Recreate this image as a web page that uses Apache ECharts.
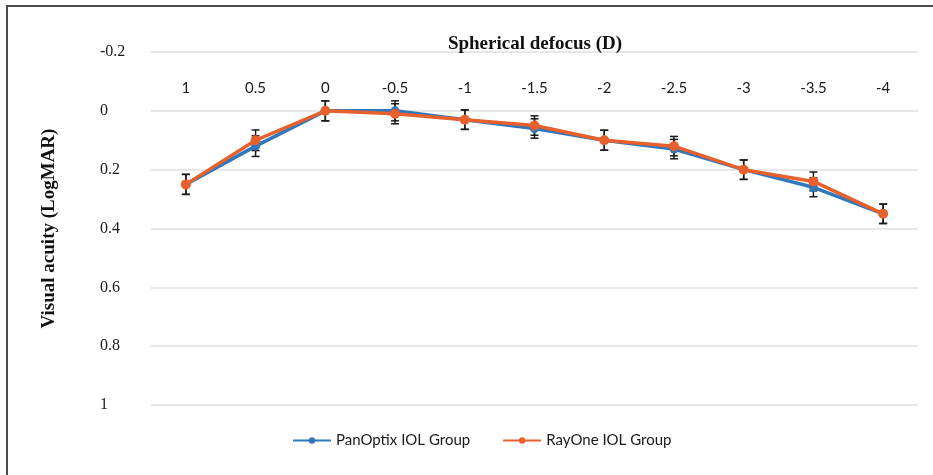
<!DOCTYPE html>
<html>
<head>
<meta charset="utf-8">
<script src="https://cdn.jsdelivr.net/npm/echarts@6/dist/echarts.min.js"></script>
<style>
  html, body { margin: 0; padding: 0; background: #fff; }
  #chart { width: 933px; height: 475px; }
</style>
</head>
<body>
<div id="chart"></div>
<script>
// Defocus steps (D) and mean visual acuity (LogMAR) per group
const categories = ['1', '0.5', '0', '-0.5', '-1', '-1.5', '-2', '-2.5', '-3', '-3.5', '-4'];
const panOptix = [0.25, 0.12, 0.00, 0.00, 0.03, 0.06, 0.10, 0.13, 0.20, 0.26, 0.35];
const rayOne   = [0.25, 0.10, 0.00, 0.01, 0.03, 0.05, 0.10, 0.12, 0.20, 0.24, 0.35];
// Standard error half-widths
const panOptixErr = [0.034, 0.035, 0.034, 0.034, 0.033, 0.033, 0.034, 0.033, 0.033, 0.032, 0.033];
const rayOneErr   = [0.034, 0.035, 0.034, 0.034, 0.033, 0.033, 0.034, 0.033, 0.033, 0.032, 0.033];
const yTicks = [-0.2, 0, 0.2, 0.4, 0.6, 0.8, 1];

const BLUE = '#2f78bd';
const ORANGE = '#e8602c';

function errData(vals, errs) {
  return vals.map((v, i) => [i, v - errs[i], v + errs[i]]);
}

function renderErr(params, api) {
  const i = api.value(0);
  const lo = api.coord([i, api.value(1)]);
  const hi = api.coord([i, api.value(2)]);
  const w = 4;
  const style = { stroke: '#1a1a1a', lineWidth: 1.5 };
  return {
    type: 'group',
    children: [
      { type: 'line', shape: { x1: lo[0], y1: lo[1], x2: hi[0], y2: hi[1] }, style },
      { type: 'line', shape: { x1: lo[0] - w, y1: lo[1], x2: lo[0] + w, y2: lo[1] }, style },
      { type: 'line', shape: { x1: hi[0] - w, y1: hi[1], x2: hi[0] + w, y2: hi[1] }, style }
    ]
  };
}

const chart = echarts.init(document.getElementById('chart'), null, { renderer: 'canvas' });

chart.setOption({
  animation: false,
  backgroundColor: '#fff',
  title: {
    text: 'Spherical defocus (D)',
    left: 530,
    top: 30,
    textAlign: 'center',
    textStyle: { fontFamily: 'Liberation Serif', fontWeight: 'bold', fontSize: 19, color: '#111' }
  },
  graphic: [{
    type: 'polyline',
    shape: { points: [[7, 475], [7, 6], [933, 6]] },
    style: { stroke: '#4a4a4a', lineWidth: 2, fill: null }
  }],
  grid: { left: 151, right: 15, top: 52, bottom: 70 },
  legend: {
    bottom: 22,
    left: 287,
    itemWidth: 38,
    itemHeight: 8,
    itemGap: 32,
    textStyle: { fontFamily: 'Lato', fontSize: 15, color: '#1a1a1a' },
    data: ['PanOptix IOL Group', 'RayOne IOL Group']
  },
  xAxis: {
    type: 'category',
    data: categories,
    position: 'top',
    offset: -59,
    axisLine: { show: false },
    axisTick: { show: false },
    axisLabel: { margin: 15, fontFamily: 'Lato', fontSize: 15, color: '#1a1a1a' },
    splitLine: { show: false }
  },
  yAxis: {
    type: 'value',
    inverse: true,
    min: yTicks[0],
    max: yTicks[yTicks.length - 1],
    interval: 0.2,
    name: 'Visual acuity (LogMAR)',
    nameLocation: 'middle',
    nameGap: 92,
    nameRotate: 90,
    nameTextStyle: { fontFamily: 'Liberation Serif', fontWeight: 'bold', fontSize: 19, color: '#111' },
    axisLine: { show: false },
    axisTick: { show: false },
    axisLabel: { align: 'left', margin: 51, fontFamily: 'Liberation Serif', fontSize: 16, color: '#1a1a1a' },
    splitLine: { lineStyle: { color: '#dcdfe0', width: 1.5 } }
  },
  series: [
    {
      type: 'custom',
      renderItem: renderErr,
      data: errData(panOptix, panOptixErr),
      z: 1,
      silent: true
    },
    {
      type: 'custom',
      renderItem: renderErr,
      data: errData(rayOne, rayOneErr),
      z: 1,
      silent: true
    },
    {
      name: 'PanOptix IOL Group',
      type: 'line',
      data: panOptix,
      z: 3,
      symbol: 'circle',
      symbolSize: 9,
      itemStyle: { color: BLUE },
      lineStyle: { color: BLUE, width: 3.5 }
    },
    {
      name: 'RayOne IOL Group',
      type: 'line',
      data: rayOne,
      z: 4,
      symbol: 'circle',
      symbolSize: 10,
      itemStyle: { color: ORANGE },
      lineStyle: { color: ORANGE, width: 3.5 }
    }
  ]
});
</script>
</body>
</html>
